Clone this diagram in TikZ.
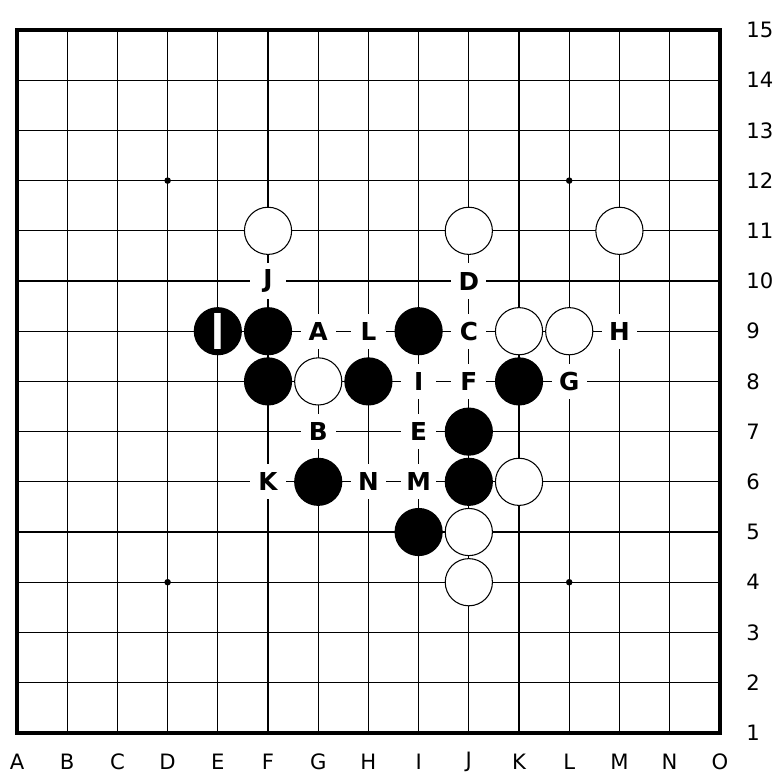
\documentclass[tikz,border=0pt]{standalone}
\usepackage{fontspec}
\setmainfont{DejaVu Sans}
\begin{document}
\begin{tikzpicture}[scale=1,
  noir/.style={circle,fill=black,minimum size=0.96cm,inner sep=0pt},
  blanc/.style={circle,draw=black,line width=0.6pt,fill=white,minimum size=0.94cm,inner sep=0pt},
  lettre/.style={fill=white,minimum size=0.7cm,inner sep=0pt,font=\bfseries\fontsize{14}{14}\selectfont},
  axe/.style={inner sep=0pt,font=\fontsize{12}{12}\selectfont}]
\useasboundingbox (-0.339,-0.80) rectangle (15.159,14.598);
%quadrillage
\draw [line width=0.7pt] (0,0) grid (14,14);
\draw [line width=2.2pt] (0,0) rectangle (14,14);
%hoshi
\foreach \x/\y in {3/3,11/3,3/11,11/11,7/7} \fill (\x,\y) circle (0.065);

%coordonnées
\foreach \l [count=\i from 0] in {A,B,C,D,E,F,G,H,I,J,K,L,M,N,O}
  \node [axe] (bas\l) at (\i,-0.58) {\l};
\foreach \n in {1,...,15}
  \node [axe,anchor=west] (num\n) at (14.52,\n-1) {\n};

%pierres noires
\foreach \p/\x/\y in {E9/4/8,F9/5/8,F8/5/7,H8/7/7,I9/8/8,K8/10/7,J7/9/6,J6/9/5,G6/6/5,I5/8/4}
  \node [noir] (\p) at (\x,\y) {};
%pierres blanches
\foreach \p/\x/\y in {F11/5/10,J11/9/10,M11/12/10,K9/10/8,L9/11/8,G8/6/7,K6/10/5,J5/9/4,J4/9/3}
  \node [blanc] (\p) at (\x,\y) {};
\node [white,font=\bfseries\fontsize{28}{28}\selectfont] (coup) at (E9) {\scalebox{0.7}[1]{I}};

%lettres
\foreach \t/\x/\y in {J/5/9,D/9/9,A/6/8,L/7/8,C/9/8,H/12/8,I/8/7,F/9/7,G/11/7,B/6/6,E/8/6,K/5/5,N/7/5,M/8/5}
  \node [lettre] (lettre\t) at (\x,\y) {\t};
\end{tikzpicture}
\end{document}
